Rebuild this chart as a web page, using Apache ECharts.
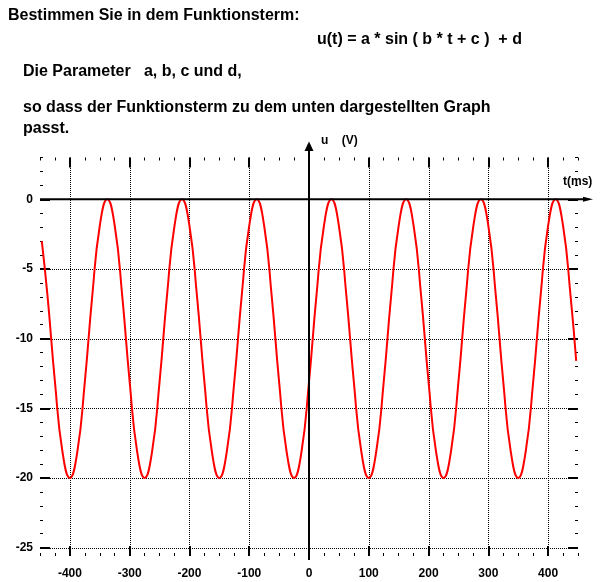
<!DOCTYPE html>
<html>
<head>
<meta charset="utf-8">
<script src="https://cdn.jsdelivr.net/npm/echarts@6/dist/echarts.min.js"></script>
<style>
html,body{margin:0;padding:0;background:#fff;}
#c{width:606px;height:582px;}
</style>
</head>
<body>
<div id="c"></div>
<script>
// ---- data ----
const tValues = [
  -447, -437.5, -425, -412.5,
  -400, -387.5, -375, -362.5, -350, -337.5, -325, -312.5, -300, -287.5,
  -275, -262.5, -250, -237.5, -225, -212.5, -200, -187.5, -175, -162.5,
  -150, -137.5, -125, -112.5, -100, -87.5, -75, -62.5, -50, -37.5,
  -25, -12.5, 0, 12.5, 25, 37.5, 50, 62.5, 75, 87.5,
  100, 112.5, 125, 137.5, 150, 162.5, 175, 187.5, 200, 212.5,
  225, 237.5, 250, 262.5, 275, 287.5, 300, 312.5, 325, 337.5,
  350, 362.5, 375, 387.5, 400, 412.5, 425, 437.5, 447
];
const uValues = [
  -3.0, -6.9, -13.1, -18.1,
  -20, -18.1, -13.1, -6.9, -1.9, 0, -1.9, -6.9, -13.1, -18.1,
  -20, -18.1, -13.1, -6.9, -1.9, 0, -1.9, -6.9, -13.1, -18.1,
  -20, -18.1, -13.1, -6.9, -1.9, 0, -1.9, -6.9, -13.1, -18.1,
  -20, -18.1, -13.1, -6.9, -1.9, 0, -1.9, -6.9, -13.1, -18.1,
  -20, -18.1, -13.1, -6.9, -1.9, 0, -1.9, -6.9, -13.1, -18.1,
  -20, -18.1, -13.1, -6.9, -1.9, 0, -1.9, -6.9, -13.1, -18.1,
  -20, -18.1, -13.1, -6.9, -1.9, 0, -1.9, -6.9, -11.6
];
const xRange = [-450, 450];
const yRange = [-25.6, 3];
const xMajorTicks = [-400, -300, -200, -100, 0, 100, 200, 300, 400];
const xTickLabels = [-400, -300, -200, -100, 0, 100, 200, 300, 400];
const xGridLines = [-400, -300, -200, -100, 100, 200, 300, 400];
const xMinorTicks = [-450, -425, -400, -375, -350, -325, -300, -275, -250, -225, -200, -175, -150, -125, -100, -75, -50, -25, 0,
  25, 50, 75, 100, 125, 150, 175, 200, 225, 250, 275, 300, 325, 350, 375, 400, 425, 450];
const yMajorTicks = [-25, -20, -15, -10, -5, 0];
const yTickLabels = [-25, -20, -15, -10, -5, 0];
const yGridLines = [-25, -20, -15, -10, -5];
const yMinorTicks = [-25, -24, -23, -22, -21, -20, -19, -18, -17, -16, -15, -14, -13, -12, -11, -10, -9, -8, -7, -6, -5, -4, -3, -2, -1, 0, 1, 2, 3];
const textLines = [
  'Bestimmen Sie in dem Funktionsterm:',
  'u(t) = a * sin ( b * t + c )  + d',
  'Die Parameter   a, b, c und d,',
  'so dass der Funktionsterm zu dem unten dargestellten Graph',
  'passt.'
];
const yAxisName = 'u    (V)';
const xAxisName = 't(ms)';

// ---- chart ----
const FONT = '"Liberation Sans", Arial, sans-serif';
const black = '#000';
function xAxisDef(position, ticks, len, width, labels) {
  return {
    type: 'value', min: xRange[0], max: xRange[1], position: position,
    axisLine: { show: false, onZero: false },
    axisTick: { show: true, inside: true, length: len, customValues: ticks, lineStyle: { color: black, width: width } },
    axisLabel: labels ? { show: true, customValues: labels, margin: 12, color: black, fontWeight: 'bold', fontSize: 12, fontFamily: FONT } : { show: false },
    splitLine: { show: false }
  };
}
function yAxisDef(position, ticks, len, width, labels) {
  return {
    type: 'value', min: yRange[0], max: yRange[1], position: position,
    axisLine: { show: false, onZero: false },
    axisTick: { show: true, inside: true, length: len, customValues: ticks, lineStyle: { color: black, width: width } },
    axisLabel: labels ? { show: true, customValues: labels, margin: 7, color: black, fontWeight: 'bold', fontSize: 12, fontFamily: FONT } : { show: false },
    splitLine: { show: false }
  };
}

const chart = echarts.init(document.getElementById('c'), null, { renderer: 'canvas' });
const option = {
  animation: false,
  backgroundColor: '#fff',
  grid: { left: 40, right: 28, top: 157.5, bottom: 26, containLabel: false },
  xAxis: [
    xAxisDef('bottom', xMajorTicks, 10, 2, xTickLabels),
    xAxisDef('bottom', xMinorTicks, 3, 1, null),
    xAxisDef('top', xMajorTicks, 10, 2, null),
    xAxisDef('top', xMinorTicks, 3, 1, null)
  ],
  yAxis: [
    yAxisDef('left', yMajorTicks, 10, 2, yTickLabels),
    yAxisDef('left', yMinorTicks, 3, 1, null),
    yAxisDef('right', yMajorTicks, 10, 2, null),
    yAxisDef('right', yMinorTicks, 3, 1, null)
  ],
  series: [{
    type: 'line',
    xAxisIndex: 0, yAxisIndex: 0,
    data: tValues.map((t, i) => [t, uValues[i]]),
    smooth: 0.5,
    showSymbol: false,
    lineStyle: { color: '#ff0000', width: 2 },
    z: 5
  }]
};
chart.setOption(option);

const px = (x, y) => chart.convertToPixel({ seriesIndex: 0 }, [x, y]);
const o = px(0, 0);
const lt = px(xRange[0], 0);
const rt = px(xRange[1], 0);
const topP = px(0, yRange[1]);
const botP = px(0, yRange[0]);
const snap = v => Math.round(v) + 0.5;

const textStyle = (txt, x, y, size) => ({
  type: 'text', x: x, y: y, z: 20,
  style: { text: txt, fill: black, font: 'bold ' + size + 'px ' + FONT, verticalAlign: 'middle', align: 'left' }
});

const grids = [];
xGridLines.forEach(v => {
  const x = snap(px(v, 0)[0]);
  grids.push({ type: 'line', z: 1, silent: true, shape: { x1: x, y1: Math.round(topP[1]), x2: x, y2: Math.round(botP[1]) },
    style: { stroke: black, lineWidth: 1, lineDash: [1, 1] } });
});
yGridLines.forEach(v => {
  const y = snap(px(0, v)[1]);
  grids.push({ type: 'line', z: 1, silent: true, shape: { x1: Math.round(lt[0]), y1: y, x2: Math.round(rt[0]), y2: y },
    style: { stroke: black, lineWidth: 1, lineDash: [1, 1] } });
});

chart.setOption({
  graphic: grids.concat([
    // y axis line with arrow
    { type: 'line', z: 10, shape: { x1: o[0], y1: botP[1] + 4, x2: o[0], y2: topP[1] - 9 }, style: { stroke: black, lineWidth: 2 } },
    { type: 'polygon', z: 10, shape: { points: [[o[0], topP[1] - 16], [o[0] - 4.5, topP[1] - 6.5], [o[0] + 4.5, topP[1] - 6.5]] }, style: { fill: black } },
    // x axis line with arrow
    { type: 'line', z: 10, shape: { x1: lt[0], y1: o[1], x2: rt[0] + 8, y2: o[1] }, style: { stroke: black, lineWidth: 2 } },
    { type: 'polygon', z: 10, shape: { points: [[rt[0] + 15, o[1]], [rt[0] + 5, o[1] - 2.5], [rt[0] + 5, o[1] + 2.5]] }, style: { fill: black } },
    // axis names
    textStyle(yAxisName, o[0] + 12, topP[1] - 17, 12),
    textStyle(xAxisName, rt[0] - 15, o[1] - 18, 12),
    // heading texts
    textStyle(textLines[0], 8, 15.5, 16),
    textStyle(textLines[1], 317, 39.5, 16),
    textStyle(textLines[2], 23, 72, 16),
    textStyle(textLines[3], 23, 108, 16),
    textStyle(textLines[4], 23, 129, 16)
  ])
});
</script>
</body>
</html>
